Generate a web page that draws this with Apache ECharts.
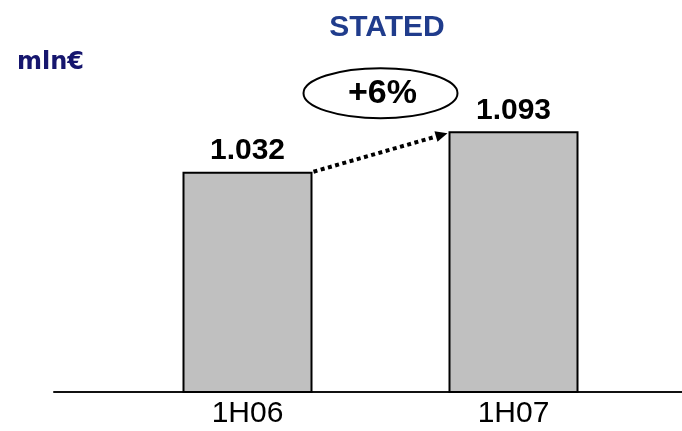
<!DOCTYPE html>
<html><head><meta charset="utf-8">
<script src="https://cdn.jsdelivr.net/npm/echarts@6/dist/echarts.min.js"></script>
<style>html,body{margin:0;padding:0;background:#fff}#c{width:682px;height:431px}</style>
</head><body><div id="c"></div>
<script>
const categories = ['1H06', '1H07'];
const values = [1032, 1093];
const growthLabel = '+6%';
const titleText = 'STATED';
const unitText = 'mln€';

const chart = echarts.init(document.getElementById('c'), null, {renderer: 'canvas'});
const fmt = v => String(v).replace(/\B(?=(\d{3})+(?!\d))/g, '.');
const BAR_W = 130;
const FONT = '"Liberation Sans", Arial, sans-serif';

const option = {
  animation: false,
  backgroundColor: '#fff',
  grid: [
    {left: 114.5, right: 35.5, top: 126.6, bottom: 39},
    {left: 54, right: 0, top: 126.6, bottom: 39}
  ],
  xAxis: [
    {type: 'category', gridIndex: 0, data: categories,
     axisLine: {show: false}, axisTick: {show: false},
     axisLabel: {color: '#000', fontFamily: FONT, fontSize: 30, margin: 7}},
    {type: 'value', gridIndex: 1, min: 0, max: 1,
     axisLine: {show: true, onZero: false, lineStyle: {color: '#111', width: 2}},
     axisTick: {show: false}, axisLabel: {show: false}, splitLine: {show: false}}
  ],
  yAxis: [
    {type: 'value', gridIndex: 0, min: 700, max: 1100, show: false},
    {type: 'value', gridIndex: 1, min: 0, max: 1, show: false}
  ],
  series: [{
    type: 'bar', xAxisIndex: 0, yAxisIndex: 0, data: values, barWidth: BAR_W,
    itemStyle: {color: '#C0C0C0', borderColor: '#000', borderWidth: 2},
    label: {show: true, position: 'top', distance: 6, color: '#000',
            fontFamily: FONT, fontWeight: 'bold', fontSize: 30,
            formatter: p => fmt(p.value)}
  }]
};
chart.setOption(option);

const p0 = chart.convertToPixel({seriesIndex: 0}, [0, values[0]]);
const p1 = chart.convertToPixel({seriesIndex: 0}, [1, values[1]]);
const x1 = p0[0] + BAR_W / 2 + 1, y1 = p0[1];
const x2 = p1[0] - BAR_W / 2 - 1, y2 = p1[1] + 2;
const ang = Math.atan2(y2 - y1, x2 - x1);
const headLen = 12, headW = 5.5;
const bx = x2 - headLen * Math.cos(ang), by = y2 - headLen * Math.sin(ang);
const nx = -Math.sin(ang), ny = Math.cos(ang);
const cx = (x1 + x2) / 2, cy = p1[1] - 38;

chart.setOption({
  graphic: [
    {type: 'text', x: 387, y: 28, style: {text: titleText, font: 'bold 30px ' + FONT, fill: '#203C8C', align: 'center', verticalAlign: 'middle'}},
    {type: 'text', x: 17, y: 63, style: {text: unitText, font: 'bold 24px "DejaVu Sans", sans-serif', fill: '#16166E', align: 'left', verticalAlign: 'middle'}},
    {type: 'line', shape: {x1: x1, y1: y1, x2: bx, y2: by}, style: {stroke: '#000', lineWidth: 4, lineDash: [4, 3.5]}},
    {type: 'polygon', shape: {points: [[x2, y2], [bx + nx * headW, by + ny * headW], [bx - nx * headW, by - ny * headW]]}, style: {fill: '#000'}},
    {type: 'ellipse', shape: {cx: cx, cy: cy, rx: 77, ry: 25}, style: {fill: 'none', stroke: '#000', lineWidth: 2}},
    {type: 'text', x: cx + 2, y: cy, style: {text: growthLabel, font: 'bold 34px ' + FONT, fill: '#000', align: 'center', verticalAlign: 'middle'}}
  ]
});
</script>
</body></html>
